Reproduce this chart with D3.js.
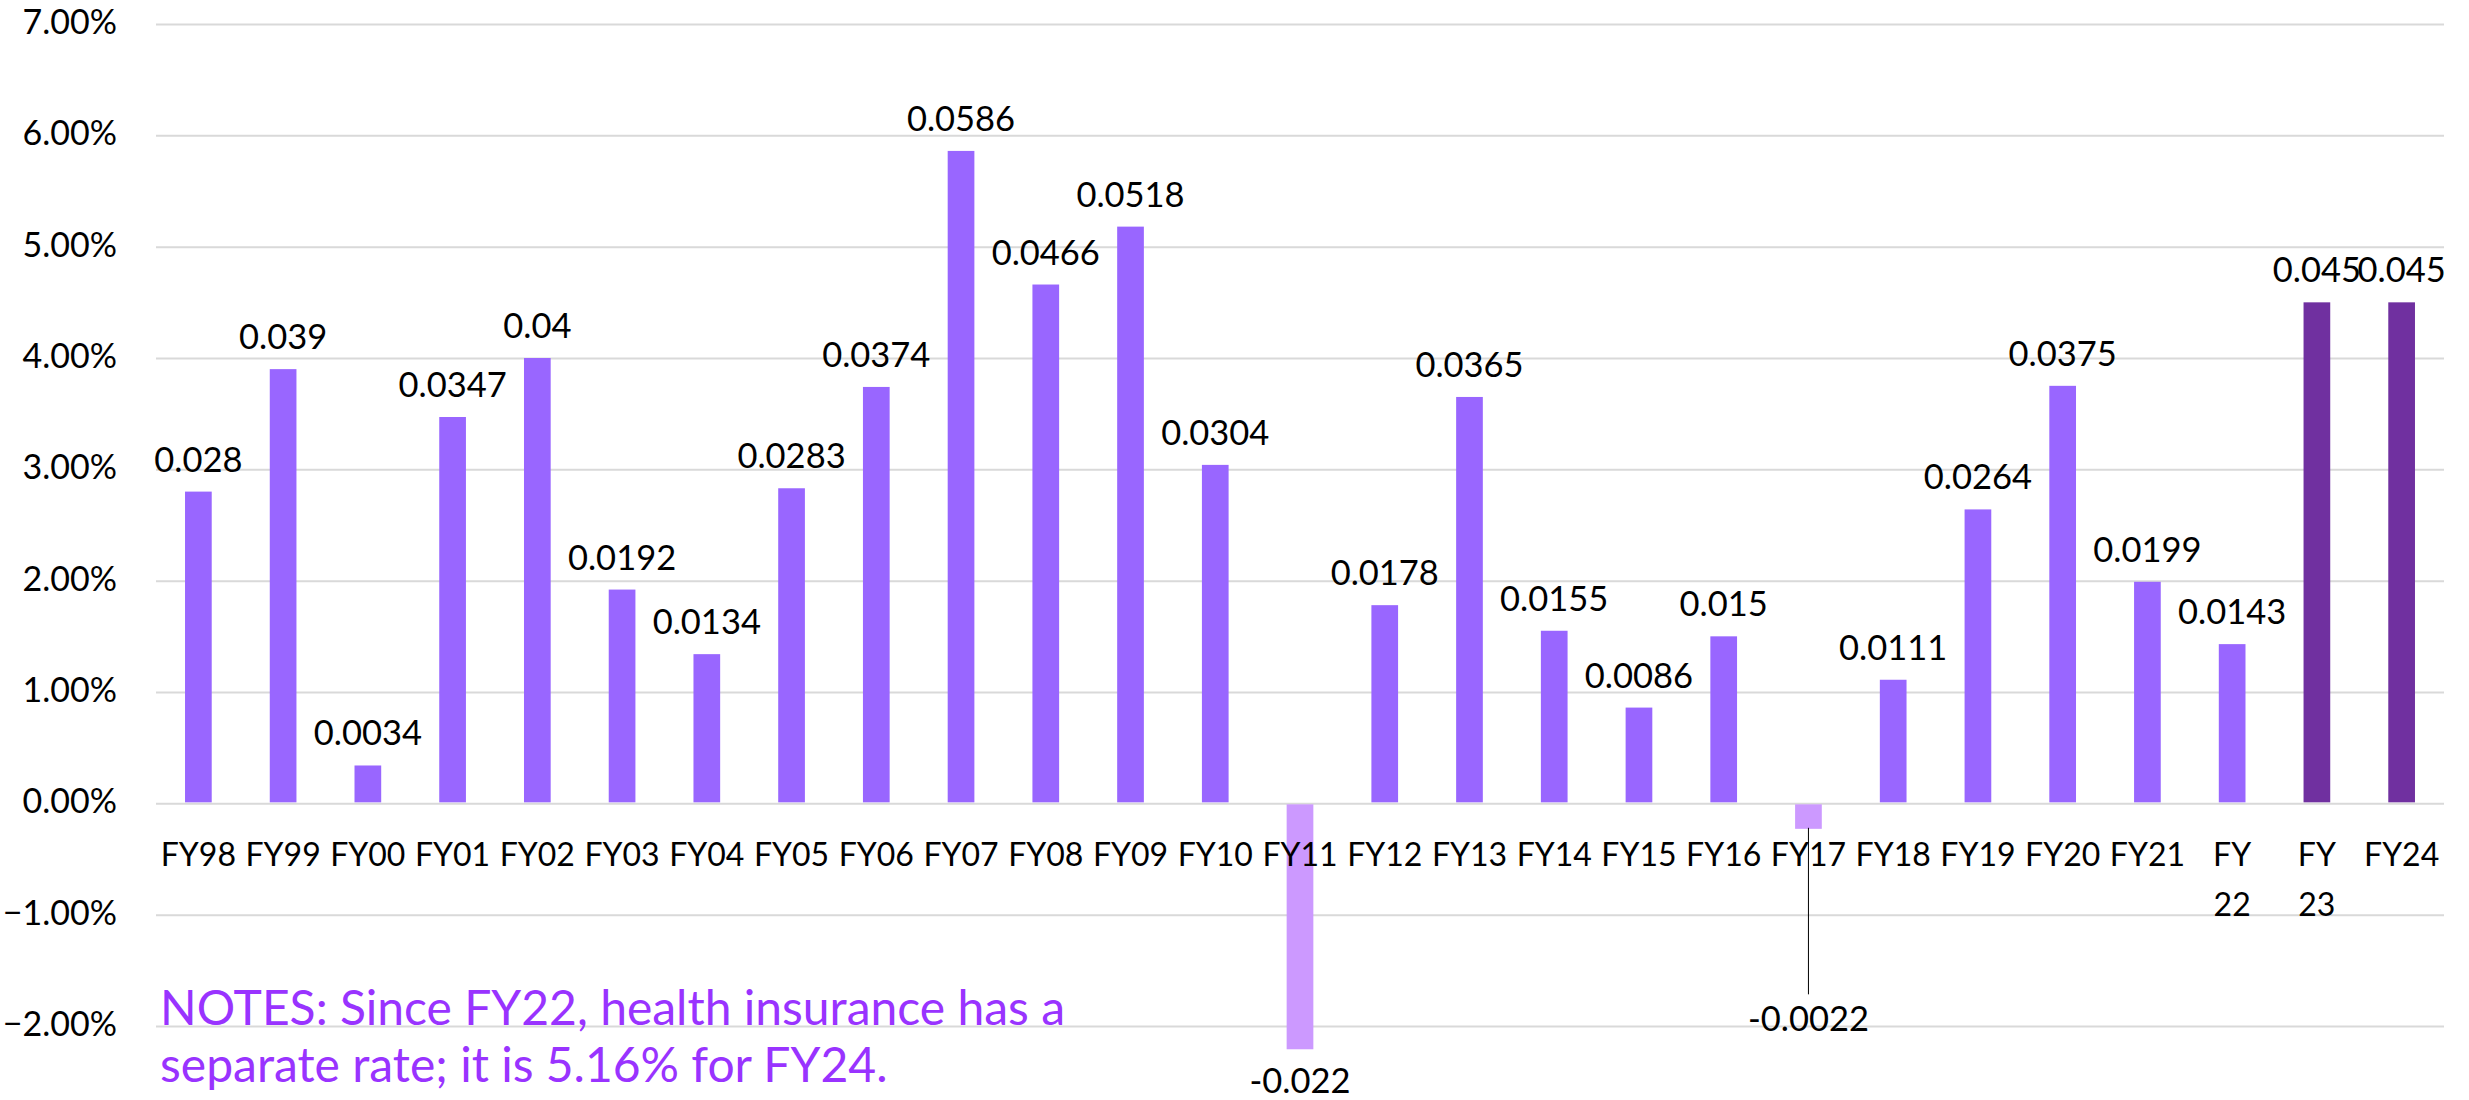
<!DOCTYPE html>
<html>
<head>
<meta charset="utf-8">
<script src="https://cdn.jsdelivr.net/npm/d3@7"></script>
<style>
  html, body { margin: 0; padding: 0; background: #ffffff; }
  svg { display: block; }
  text { font-family: Lato, "Noto Sans", sans-serif; fill: #000000; }
</style>
</head>
<body>
<div id="chart"></div>
<script>
// Annual rate change by fiscal year
const years = ["FY98", "FY99", "FY00", "FY01", "FY02", "FY03", "FY04", "FY05", "FY06",
  "FY07", "FY08", "FY09", "FY10", "FY11", "FY12", "FY13", "FY14", "FY15", "FY16",
  "FY17", "FY18", "FY19", "FY20", "FY21", "FY 22", "FY 23", "FY24"];
const rates = [0.028, 0.039, 0.0034, 0.0347, 0.04, 0.0192, 0.0134, 0.0283, 0.0374,
  0.0586, 0.0466, 0.0518, 0.0304, -0.022, 0.0178, 0.0365, 0.0155, 0.0086, 0.015,
  -0.0022, 0.0111, 0.0264, 0.0375, 0.0199, 0.0143, 0.045, 0.045];
// Years shown with the darker fill
const separateRateYears = ["FY 23", "FY24"];
const yTicks = [-0.02, -0.01, 0, 0.01, 0.02, 0.03, 0.04, 0.05, 0.06, 0.07];
const noteLines = ["NOTES: Since FY22, health insurance has a",
  "separate rate; it is 5.16% for FY24."];

const W = 2469, H = 1100;
const margin = { left: 156, right: 25, top: 24, bottom: 74 };

const svg = d3.select("#chart").append("svg")
  .attr("width", W).attr("height", H);
svg.append("rect").attr("width", W).attr("height", H).attr("fill", "#ffffff");

const x = d3.scaleBand()
  .domain(years)
  .range([margin.left, W - margin.right])
  .paddingInner(0.685)
  .paddingOuter(0.3425);

const y = d3.scaleLinear()
  .domain([-0.02, 0.07])
  .range([H - margin.bottom, margin.top]);

const colors = { pos: "#9966FF", neg: "#CC99FF", sep: "#7030A0" };
const fillFor = (yr, v) => separateRateYears.includes(yr) ? colors.sep : (v < 0 ? colors.neg : colors.pos);

// Gridlines and value axis
const yAxis = d3.axisLeft(y)
  .tickValues(yTicks)
  .tickFormat(d3.format(".2%"))
  .tickSize(-(W - margin.left - margin.right))
  .tickPadding(39);

const gy = svg.append("g")
  .attr("transform", `translate(${margin.left},0)`)
  .call(yAxis);
gy.select(".domain").remove();
gy.selectAll(".tick line").attr("stroke", "#D9D9D9").attr("stroke-width", 2);
gy.selectAll(".tick text")
  .attr("font-family", "Lato, sans-serif")
  .attr("font-size", 34)
  .attr("fill", "#000")
  .attr("dy", "0.28em");

const data = years.map((yr, i) => ({ yr, v: rates[i] }));

// Bars
svg.append("g").selectAll("rect").data(data).join("rect")
  .attr("x", d => x(d.yr))
  .attr("width", x.bandwidth())
  .attr("y", d => d.v >= 0 ? y(d.v) : y(0) + 1)
  .attr("height", d => Math.abs(y(d.v) - y(0)) - (d.v >= 0 ? 1 : 0))
  .attr("fill", d => fillFor(d.yr, d.v));

// Category labels under the zero line; spaced names wrap onto two lines
const catG = svg.append("g");
data.forEach(d => {
  const t = catG.append("text")
    .attr("text-anchor", "middle")
    .attr("font-size", 32)
    .attr("y", 866);
  d.yr.split(" ").forEach((part, k) => {
    t.append("tspan")
      .attr("x", x(d.yr) + x.bandwidth() / 2)
      .attr("dy", k === 0 ? 0 : 50)
      .text(part);
  });
});

// Value labels
const labelG = svg.append("g");
const labelZoneTop = y(0) + 228;
data.forEach(d => {
  const cx = x(d.yr) + x.bandwidth() / 2;
  let base;
  if (d.v >= 0) {
    base = y(d.v) - 20;
  } else {
    const natural = y(d.v) + 45;
    base = Math.max(natural, labelZoneTop);
    if (base > natural) {
      labelG.append("line")
        .attr("x1", cx).attr("x2", cx)
        .attr("y1", y(d.v)).attr("y2", base - 37)
        .attr("stroke", "#000").attr("stroke-width", 1);
    }
  }
  labelG.append("text")
    .attr("x", cx)
    .attr("y", base)
    .attr("text-anchor", "middle")
    .attr("font-size", 34.5)
    .text(String(d.v));
});

// Note
const note = svg.append("text")
  .attr("x", 160)
  .attr("y", 1025)
  .attr("font-size", 48)
  .style("fill", "#9933FF");
noteLines.forEach((line, k) => {
  note.append("tspan").attr("x", 160).attr("dy", k === 0 ? 0 : 57).text(line);
});
</script>
</body>
</html>
